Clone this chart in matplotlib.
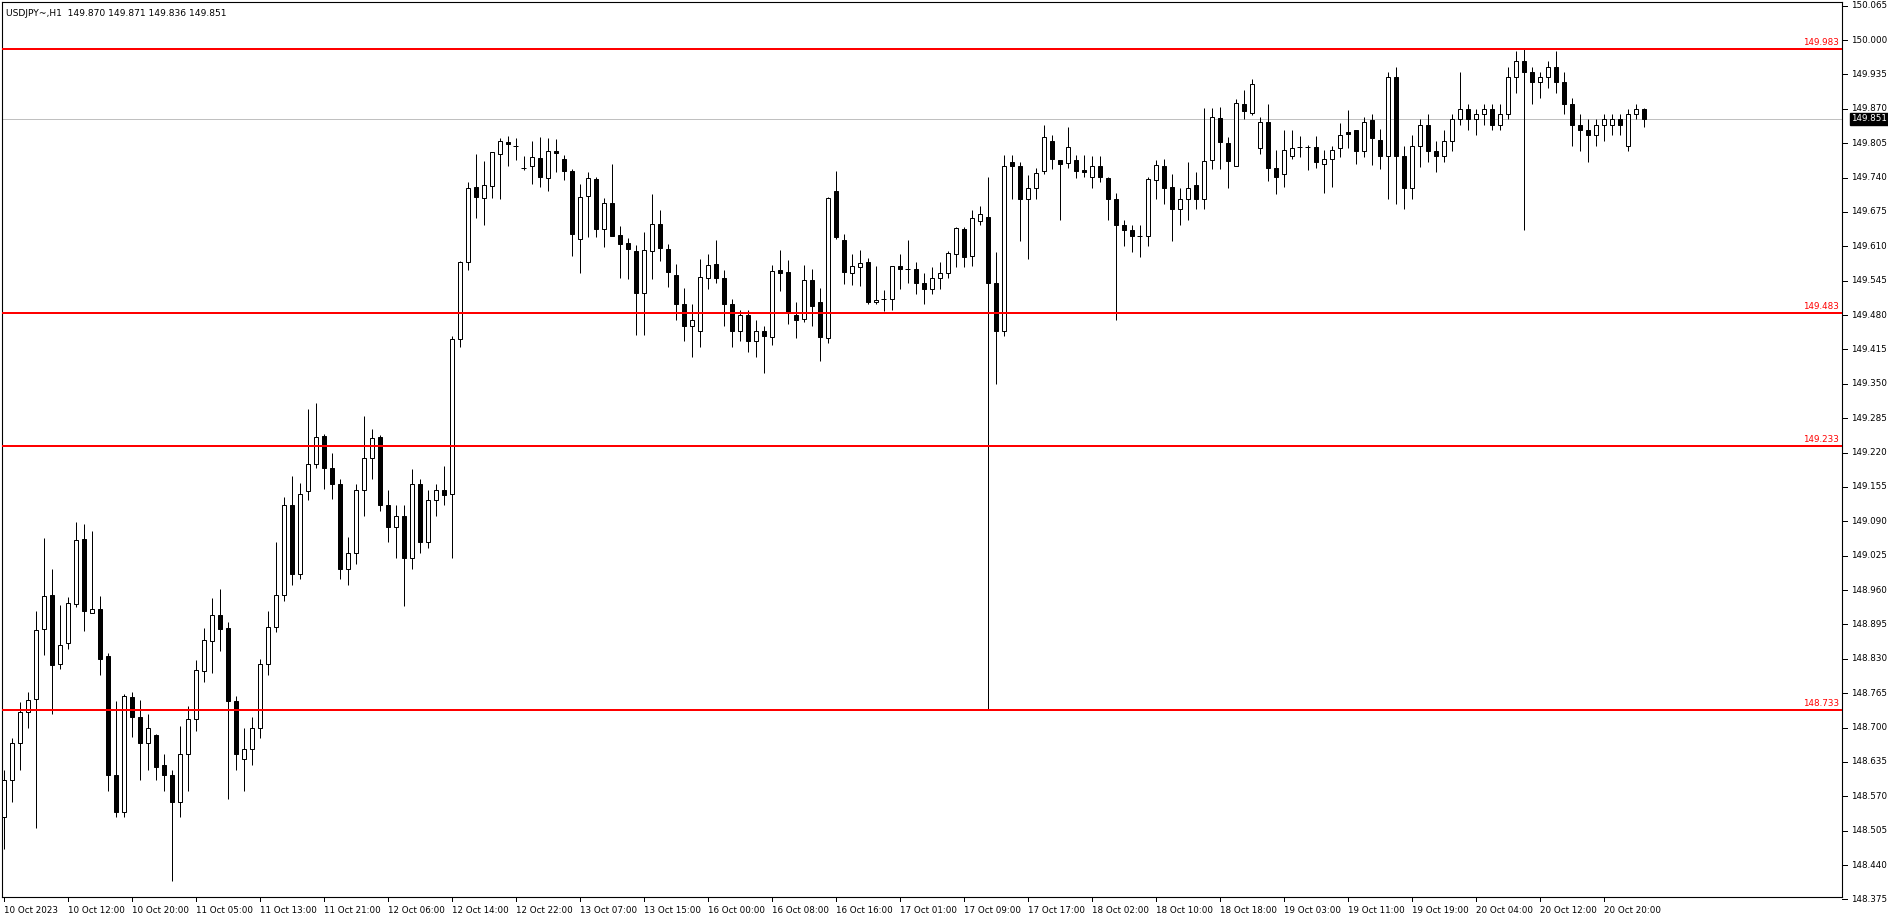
import matplotlib
matplotlib.use('Agg')
import matplotlib.pyplot as plt

# USDJPY H1 candles
header_text = 'USDJPY~,H1  149.870 149.871 149.836 149.851'

opens = [148.53, 148.60, 148.67, 148.73, 148.753, 148.886, 148.951, 148.821, 148.859, 148.934,
         149.056, 148.916, 148.924, 148.835, 148.61, 148.54, 148.758, 148.720, 148.67, 148.685,
         148.63, 148.61, 148.56, 148.65, 148.717, 148.806, 148.863, 148.912, 148.888, 148.75,
         148.64, 148.66, 148.70, 148.82, 148.89, 148.95, 149.12, 148.99, 149.147, 149.198,
         149.251, 149.191, 149.16, 149.00, 149.03, 149.15, 149.21, 149.249, 149.12, 149.08,
         149.10, 149.02, 149.16, 149.05, 149.13, 149.15, 149.142, 149.435, 149.580, 149.722,
         149.701, 149.724, 149.784, 149.807, 149.799, 149.759, 149.761, 149.777, 149.740, 149.790,
         149.776, 149.752, 149.623, 149.705, 149.737, 149.642, 149.692, 149.631, 149.616, 149.602,
         149.521, 149.602, 149.652, 149.605, 149.556, 149.50, 149.46, 149.45, 149.55, 149.577,
         149.550, 149.50, 149.45, 149.48, 149.43, 149.45, 149.439, 149.565, 149.561, 149.480,
         149.473, 149.546, 149.505, 149.436, 149.715, 149.621, 149.559, 149.570, 149.580, 149.504,
         149.510, 149.51, 149.573, 149.567, 149.567, 149.54, 149.53, 149.55, 149.56, 149.595,
         149.643, 149.591, 149.657, 149.665, 149.54, 149.45, 149.769, 149.761, 149.70, 149.72,
         149.752, 149.810, 149.773, 149.767, 149.773, 149.754, 149.741, 149.761, 149.739, 149.70,
         149.65, 149.64, 149.63, 149.63, 149.735, 149.761, 149.722, 149.68, 149.70, 149.725,
         149.70, 149.773, 149.853, 149.805, 149.762, 149.879, 149.863, 149.795, 149.845, 149.758,
         149.746, 149.781, 149.797, 149.797, 149.797, 149.765, 149.776, 149.795, 149.826, 149.829,
         149.790, 149.848, 149.811, 149.78, 149.93, 149.78, 149.72, 149.80, 149.84, 149.79,
         149.78, 149.81, 149.85, 149.87, 149.85, 149.86, 149.87, 149.84, 149.86, 149.93,
         149.96, 149.94, 149.92, 149.93, 149.95, 149.92, 149.88, 149.84, 149.83, 149.82,
         149.84, 149.84, 149.85, 149.80, 149.86, 149.870]
highs = [148.62, 148.68, 148.748, 148.767, 148.920, 149.058, 149.000, 148.932, 148.947, 149.089,
         149.085, 149.072, 148.949, 148.840, 148.75, 148.763, 148.767, 148.752, 148.726, 148.688,
         148.65, 148.62, 148.702, 148.741, 148.828, 148.888, 148.945, 148.962, 148.900, 148.76,
         148.70, 148.72, 148.83, 148.92, 149.05, 149.135, 149.176, 149.162, 149.302, 149.314,
         149.255, 149.219, 149.17, 149.06, 149.16, 149.29, 149.264, 149.253, 149.15, 149.12,
         149.12, 149.189, 149.17, 149.15, 149.16, 149.195, 149.44, 149.582, 149.732, 149.785,
         149.771, 149.788, 149.815, 149.819, 149.815, 149.781, 149.810, 149.817, 149.815, 149.813,
         149.783, 149.756, 149.727, 149.751, 149.741, 149.701, 149.766, 149.648, 149.626, 149.612,
         149.637, 149.709, 149.679, 149.614, 149.577, 149.531, 149.50, 149.586, 149.595, 149.622,
         149.565, 149.51, 149.49, 149.49, 149.47, 149.46, 149.575, 149.603, 149.584, 149.505,
         149.575, 149.567, 149.531, 149.703, 149.752, 149.633, 149.595, 149.603, 149.588, 149.573,
         149.527, 149.573, 149.595, 149.622, 149.58, 149.56, 149.57, 149.58, 149.601, 149.647,
         149.647, 149.678, 149.686, 149.741, 149.60, 149.782, 149.782, 149.769, 149.744, 149.759,
         149.839, 149.820, 149.773, 149.835, 149.782, 149.782, 149.780, 149.780, 149.742, 149.71,
         149.66, 149.65, 149.65, 149.741, 149.773, 149.775, 149.747, 149.72, 149.769, 149.75,
         149.871, 149.871, 149.874, 149.817, 149.888, 149.906, 149.926, 149.855, 149.879, 149.792,
         149.829, 149.829, 149.819, 149.801, 149.819, 149.792, 149.800, 149.843, 149.868, 149.830,
         149.855, 149.860, 149.831, 149.94, 149.95, 149.80, 149.82, 149.85, 149.86, 149.81,
         149.83, 149.86, 149.94, 149.88, 149.87, 149.88, 149.88, 149.88, 149.95, 149.98,
         149.985, 149.95, 149.94, 149.96, 149.98, 149.94, 149.89, 149.86, 149.85, 149.85,
         149.86, 149.86, 149.86, 149.87, 149.88, 149.871]
lows = [148.47, 148.56, 148.62, 148.70, 148.51, 148.838, 148.726, 148.811, 148.849, 148.928,
        148.883, 148.916, 148.799, 148.58, 148.53, 148.53, 148.683, 148.60, 148.62, 148.60,
        148.58, 148.41, 148.53, 148.58, 148.694, 148.787, 148.803, 148.845, 148.565, 148.62,
        148.58, 148.63, 148.68, 148.80, 148.88, 148.94, 148.97, 148.98, 149.13, 149.19,
        149.151, 149.132, 148.98, 148.97, 149.01, 149.10, 149.17, 149.11, 149.05, 149.02,
        148.93, 149.00, 149.03, 149.04, 149.10, 149.12, 149.02, 149.42, 149.566, 149.664,
        149.651, 149.702, 149.700, 149.761, 149.773, 149.754, 149.728, 149.723, 149.715, 149.751,
        149.735, 149.592, 149.560, 149.628, 149.628, 149.609, 149.630, 149.551, 149.548, 149.443,
        149.443, 149.549, 149.582, 149.533, 149.47, 149.43, 149.40, 149.42, 149.53, 149.541,
        149.46, 149.42, 149.43, 149.41, 149.40, 149.37, 149.423, 149.526, 149.464, 149.437,
        149.467, 149.460, 149.394, 149.428, 149.624, 149.539, 149.537, 149.534, 149.50, 149.500,
        149.488, 149.49, 149.53, 149.54, 149.52, 149.50, 149.52, 149.53, 149.55, 149.57,
        149.57, 149.573, 149.651, 148.733, 149.35, 149.44, 149.70, 149.62, 149.586, 149.70,
        149.747, 149.756, 149.66, 149.759, 149.739, 149.742, 149.72, 149.731, 149.66, 149.47,
        149.61, 149.60, 149.59, 149.61, 149.70, 149.69, 149.62, 149.65, 149.66, 149.68,
        149.68, 149.756, 149.756, 149.721, 149.761, 149.850, 149.859, 149.785, 149.734, 149.708,
        149.723, 149.775, 149.778, 149.755, 149.759, 149.710, 149.723, 149.778, 149.795, 149.766,
        149.778, 149.763, 149.756, 149.70, 149.69, 149.68, 149.70, 149.76, 149.77, 149.75,
        149.77, 149.79, 149.84, 149.83, 149.82, 149.84, 149.83, 149.83, 149.85, 149.90,
        149.64, 149.88, 149.89, 149.91, 149.90, 149.86, 149.80, 149.79, 149.77, 149.80,
        149.81, 149.82, 149.82, 149.79, 149.85, 149.836]
closes = [148.60, 148.67, 148.730, 148.752, 148.884, 148.948, 148.819, 148.856, 148.935, 149.055,
          148.921, 148.925, 148.830, 148.61, 148.54, 148.760, 148.719, 148.67, 148.699, 148.625,
          148.61, 148.56, 148.65, 148.716, 148.809, 148.866, 148.912, 148.886, 148.750, 148.65,
          148.66, 148.70, 148.82, 148.89, 148.95, 149.12, 148.99, 149.142, 149.198, 149.249,
          149.190, 149.161, 149.00, 149.03, 149.15, 149.21, 149.247, 149.12, 149.08, 149.10,
          149.02, 149.16, 149.05, 149.13, 149.15, 149.14, 149.435, 149.580, 149.720, 149.704,
          149.725, 149.788, 149.809, 149.803, 149.799, 149.759, 149.778, 149.742, 149.790, 149.787,
          149.753, 149.634, 149.703, 149.739, 149.643, 149.692, 149.630, 149.614, 149.604, 149.522,
          149.603, 149.652, 149.606, 149.561, 149.50, 149.46, 149.47, 149.552, 149.574, 149.551,
          149.50, 149.45, 149.48, 149.43, 149.45, 149.44, 149.563, 149.560, 149.484, 149.471,
          149.546, 149.498, 149.439, 149.701, 149.628, 149.562, 149.572, 149.578, 149.505, 149.508,
          149.510, 149.572, 149.568, 149.567, 149.54, 149.53, 149.55, 149.56, 149.597, 149.645,
          149.589, 149.664, 149.671, 149.54, 149.45, 149.761, 149.762, 149.70, 149.72, 149.748,
          149.816, 149.775, 149.765, 149.797, 149.752, 149.750, 149.761, 149.741, 149.70, 149.65,
          149.64, 149.63, 149.63, 149.737, 149.763, 149.720, 149.68, 149.70, 149.721, 149.70,
          149.771, 149.854, 149.808, 149.772, 149.881, 149.866, 149.916, 149.845, 149.759, 149.742,
          149.792, 149.795, 149.797, 149.797, 149.769, 149.776, 149.792, 149.820, 149.823, 149.791,
          149.846, 149.814, 149.780, 149.93, 149.78, 149.72, 149.80, 149.84, 149.79, 149.78,
          149.81, 149.85, 149.87, 149.85, 149.86, 149.87, 149.84, 149.86, 149.93, 149.96,
          149.94, 149.92, 149.93, 149.95, 149.92, 149.88, 149.84, 149.83, 149.82, 149.84,
          149.85, 149.85, 149.84, 149.86, 149.87, 149.851]

level_prices = [149.983, 149.483, 149.233, 148.733]
bid_price = 149.851

price_ticks = [148.375, 148.440, 148.505, 148.570, 148.635, 148.700, 148.765, 148.830, 148.895,
               148.960, 149.025, 149.090, 149.155, 149.220, 149.285, 149.350, 149.415, 149.480,
               149.545, 149.610, 149.675, 149.740, 149.805, 149.870, 149.935, 150.000, 150.065]

time_labels = ['10 Oct 2023', '10 Oct 12:00', '10 Oct 20:00', '11 Oct 05:00', '11 Oct 13:00',
               '11 Oct 21:00', '12 Oct 06:00', '12 Oct 14:00', '12 Oct 22:00', '13 Oct 07:00',
               '13 Oct 15:00', '16 Oct 00:00', '16 Oct 08:00', '16 Oct 16:00', '17 Oct 01:00',
               '17 Oct 09:00', '17 Oct 17:00', '18 Oct 02:00', '18 Oct 10:00', '18 Oct 18:00',
               '19 Oct 03:00', '19 Oct 11:00', '19 Oct 19:00', '20 Oct 04:00', '20 Oct 12:00',
               '20 Oct 20:00']
time_label_bars = [0, 8, 16, 24, 32, 40, 48, 56, 64, 72, 80, 88, 96, 104, 112, 120, 128, 136,
                   144, 152, 160, 168, 176, 184, 192, 200]


W, H = 1888, 923
fig = plt.figure(figsize=(W / 100, H / 100), dpi=100)
ax = fig.add_axes([2 / W, 26 / H, 1840 / W, 895 / H])
ax.set_xlim(-0.1875, 229.8125)
ax.set_ylim(148.3795, 150.072)
ax.set_xticks([])
ax.set_yticks([])
for s in ax.spines.values():
    s.set_color('black')
    s.set_linewidth(0.8)

px = 0.72  # one pixel in points
font = 'DejaVu Sans'
fs = 6.3

# bid line behind the candles
ax.axhline(bid_price, color='#c0c0c0', lw=px, zorder=1)

# candles
x = list(range(len(opens)))
ax.vlines(x, lows, highs, color='black', lw=px, zorder=2)
for i in x:
    o, c = opens[i], closes[i]
    if abs(c - o) < 0.0015:
        ax.hlines(o, i - 0.3, i + 0.3, color='black', lw=px, zorder=3)
        continue
    face = 'white' if c > o else 'black'
    ax.bar(i, abs(c - o), bottom=min(o, c), width=0.5, color=face,
           edgecolor='black', linewidth=px, zorder=3)

# horizontal levels with labels
for lv in level_prices:
    ax.axhline(lv, color='#ff0000', lw=2 * px, zorder=4)
    ax.text(0.9985, lv + 0.004, f'{lv:.3f}', transform=ax.get_yaxis_transform(),
            ha='right', va='bottom', color='#ff0000', fontsize=fs, family=font, zorder=5)

# price scale on the right
ytr = ax.get_yaxis_transform()
for p in price_ticks:
    ax.plot([1.0, 1.0025], [p, p], color='black', lw=px, transform=ytr, clip_on=False)
    ax.text(1.0048, p, f'{p:.3f}', transform=ytr, ha='left', va='center',
            fontsize=fs, family=font, clip_on=False)

# current price box
ax.text(1.0048, bid_price, f'{bid_price:.3f}', transform=ytr, ha='left', va='center',
        fontsize=fs, family=font, color='white', clip_on=False, zorder=10,
        bbox=dict(boxstyle='square,pad=0.15', fc='black', ec='black'))

# time scale
xtr = ax.get_xaxis_transform()
for b, lab in zip(time_label_bars, time_labels):
    ax.plot([b, b], [0, -0.005], color='black', lw=px, transform=xtr, clip_on=False)
    ax.text(b, -0.0155, lab, transform=xtr, ha='left', va='center',
            fontsize=fs, family=font, clip_on=False)

ax.text(0.002, 0.992, header_text, transform=ax.transAxes, ha='left', va='top',
        fontsize=6.6, family=font)

fig.savefig('out.png', dpi=100)
